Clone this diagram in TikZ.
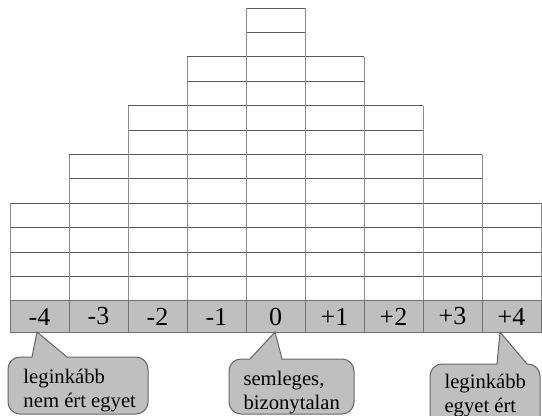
\documentclass[tikz,border=0pt]{standalone}
\usepackage{fontspec}
\setmainfont{Liberation Serif}
\tikzset{every picture/.style={line width=0.75pt}}
\begin{document}
\begin{tikzpicture}[x=0.75pt,y=0.75pt,yscale=-1,xscale=1,
  hline/.style={draw=black!65},
  vline/.style={draw=black!45},
  cell/.style={draw=black!55, fill=black!25, minimum width=44.25pt, minimum height=23.25pt, inner sep=0pt, font=\fontsize{19.5}{21}\selectfont},
  bubble/.style={draw=black!60, fill=black!25},
  bubbletext/.style={anchor=north west, align=left, inner sep=0pt, font=\fontsize{15.5}{17.5}\selectfont}]
\useasboundingbox (0,0) rectangle (542,416);
\clip (0,0) rectangle (542,416);

%Straight Lines: rows of the pyramid
\foreach \y/\a/\b in {276.6/10/541, 252.2/10/541, 227.8/10/541, 203.4/10/541,
                      179.0/69/482, 154.6/69/482, 130.2/128/423, 105.8/128/423,
                      81.4/187/364, 57.0/187/364, 32.6/246/305, 8.2/246/305}
  \draw [hline] (\a,\y) -- (\b,\y);
%Straight Lines: columns of the pyramid
\foreach \x/\t in {10/203.4, 69/154.6, 128/105.8, 187/57.0, 246/8.2,
                   305/8.2, 364/57.0, 423/105.8, 482/154.6, 541/203.4}
  \draw [vline] (\x,301) -- (\x,\t);

% Text Node: scale
\foreach \v [count=\i] in {-4,-3,-2,-1,0,+1,+2,+3,+4}
  \node [cell] (c\i) at (-19.5+59*\i,316.5) {\v};

%Shape: Callout left
\draw [bubble] (32,357) -- (37,332) -- (67,357) -- (136,357) arc (-90:0:12) -- (148,402) arc (0:90:12) -- (20,414) arc (90:180:12) -- (8,369) arc (180:270:12) -- cycle;
%Shape: Callout middle
\draw [bubble] (250,359) -- (275,332) -- (282,359) -- (342,359) arc (-90:0:12) -- (354,402) arc (0:90:12) -- (241,414) arc (90:180:12) -- (229,371) arc (180:270:12) -- cycle;
%Shape: Callout right
\draw [bubble] (497,364) -- (500,332) -- (527,364) -- (528,364) arc (-90:0:12) -- (540,430) -- (430,430) -- (430,376) arc (180:270:12) -- cycle;

% Text Node
\node [bubbletext] (left) at (23,369) {leginkább\\nem ért egyet};
% Text Node
\node [bubbletext] (mid) at (243,371) {semleges,\\bizonytalan};
% Text Node
\node [bubbletext] (right) at (444,374) {leginkább\\egyet ért};

\end{tikzpicture}
\end{document}
